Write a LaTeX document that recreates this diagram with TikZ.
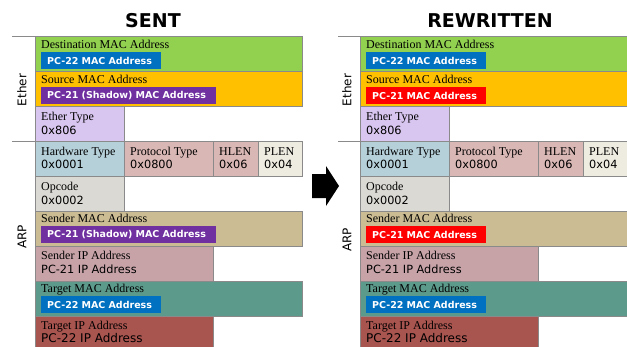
\documentclass[tikz,border=0pt]{standalone}
\usepackage{fontspec}
\usepackage{tikz}
\usetikzlibrary{positioning}
\usepackage{xcolor}

\newfontfamily\namefont{Liberation Serif}
\newfontfamily\valfont{DejaVu Sans}

\definecolor{fieldline}{HTML}{8A8A8A}
\definecolor{dstgreen}{HTML}{92D050}
\definecolor{srcorange}{HTML}{FFC000}
\definecolor{ethlilac}{HTML}{D9C6F0}
\definecolor{hwblue}{HTML}{B6D0DA}
\definecolor{protopink}{HTML}{D9B7B4}
\definecolor{plencream}{HTML}{EEEBE0}
\definecolor{opgray}{HTML}{DAD9D4}
\definecolor{smackhaki}{HTML}{CBBC93}
\definecolor{sippink}{HTML}{C7A3A8}
\definecolor{tmacteal}{HTML}{5C9A8B}
\definecolor{tipbrick}{HTML}{A8544F}
\definecolor{tagblue}{HTML}{0070C0}
\definecolor{tagpurple}{HTML}{7030A0}
\definecolor{tagred}{HTML}{FF0000}

\tikzset{
  field/.style={draw=fieldline, fill=#1, anchor=north west, minimum height=35, inner sep=0},
  fname/.style={anchor=base west, inner sep=0, font=\namefont\fontsize{12}{12}\selectfont},
  fval/.style={anchor=base west, inner sep=0, font=\valfont\fontsize{11.3}{12}\selectfont},
  bigval/.style={fval, font=\valfont\fontsize{12}{12}\selectfont},
  tag/.style={fill=#1, text=white, anchor=west, minimum height=17, inner xsep=6, inner ysep=0,
    align=left, font=\valfont\bfseries\fontsize{9.5}{10}\selectfont},
  side/.style={rotate=90, font=\valfont\fontsize{12}{12}\selectfont},
  heading/.style={font=\valfont\bfseries\fontsize{19}{20}\selectfont},
  bracket/.style={draw=fieldline, line width=0.8pt},
}

\begin{document}
\begin{tikzpicture}[x=1pt,y=-1pt]
\useasboundingbox (0,0) rectangle (627,346);

% sent frame
\node [heading] (sTitle) at (153,21) {SENT};
\begin{scope}[shift={(35,0)}]
\node [field=dstgreen, minimum width=267] (sDst) at (0,36) {};
\node [field=srcorange, minimum width=267] (sSrc) at (0,71) {};
\node [field=ethlilac, minimum width=89] (sEth) at (0,106) {};
\node [field=hwblue, minimum width=89] (sHw) at (0,141) {};
\node [field=protopink, minimum width=89] (sProto) at (89,141) {};
\node [field=protopink, minimum width=45] (sHlen) at (178,141) {};
\node [field=plencream, minimum width=44] (sPlen) at (223,141) {};
\node [field=opgray, minimum width=89] (sOp) at (0,176) {};
\node [field=smackhaki, minimum width=267] (sSmac) at (0,211) {};
\node [field=sippink, minimum width=178] (sSip) at (0,246) {};
\node [field=tmacteal, minimum width=267] (sTmac) at (0,281) {};
\node [field=tipbrick, minimum width=178] (sTip) at (0,316) {};

\node [fname] (sDstN) at (6,48) {Destination MAC Address};
\node [tag=tagblue, text width=108] (sDstV) at (6,60.5) {PC-22 MAC Address};
\node [fname] (sSrcN) at (6,83) {Source MAC Address};
\node [tag=tagpurple, text width=163] (sSrcV) at (6,95.5) {PC-21 (Shadow) MAC Address};
\node [fname] (sEthN) at (6,120) {Ether Type};
\node [fval] (sEthV) at (6,134) {0x806};
\node [fname] (sHwN) at (6,155) {Hardware Type};
\node [fval] (sHwV) at (6,168) {0x0001};
\node [fname] (sProtoN) at (95,155) {Protocol Type};
\node [fval] (sProtoV) at (95,168) {0x0800};
\node [fname] (sHlenN) at (184,155) {HLEN};
\node [fval] (sHlenV) at (184,168) {0x06};
\node [fname] (sPlenN) at (229,155) {PLEN};
\node [fval] (sPlenV) at (229,168) {0x04};
\node [fname] (sOpN) at (6,190) {Opcode};
\node [fval] (sOpV) at (6,204) {0x0002};
\node [fname] (sSmacN) at (6,222.5) {Sender MAC Address};
\node [tag=tagpurple, text width=163] (sSmacV) at (6,234.5) {PC-21 (Shadow) MAC Address};
\node [fname] (sSipN) at (6,259) {Sender IP Address};
\node [fval] (sSipV) at (6,273.5) {PC-21 IP Address};
\node [fname] (sTmacN) at (6,292) {Target MAC Address};
\node [tag=tagblue, text width=108] (sTmacV) at (6,304.5) {PC-22 MAC Address};
\node [fname] (sTipN) at (6,329) {Target IP Address};
\node [bigval] (sTipV) at (6,342.5) {PC-22 IP Address};
\end{scope}
\draw [bracket] (sDst.north west) -- ++(-23,0);
\draw [bracket] (sHw.north west) -- ++(-23,0);
\node [side] (sEther) at (22,90) {Ether};
\node [side] (sArp) at (22,237) {ARP};

% arrow between the frames
\fill [black] (312,174) -- (326,174) -- (326,166) -- (339,186) -- (326,206)
  -- (326,198) -- (312,198) -- cycle;

% rewritten frame
\node [heading] (rTitle) at (490,21) {REWRITTEN};
\begin{scope}[shift={(360,0)}]
\node [field=dstgreen, minimum width=267] (rDst) at (0,36) {};
\node [field=srcorange, minimum width=267] (rSrc) at (0,71) {};
\node [field=ethlilac, minimum width=89] (rEth) at (0,106) {};
\node [field=hwblue, minimum width=89] (rHw) at (0,141) {};
\node [field=protopink, minimum width=89] (rProto) at (89,141) {};
\node [field=protopink, minimum width=45] (rHlen) at (178,141) {};
\node [field=plencream, minimum width=44] (rPlen) at (223,141) {};
\node [field=opgray, minimum width=89] (rOp) at (0,176) {};
\node [field=smackhaki, minimum width=267] (rSmac) at (0,211) {};
\node [field=sippink, minimum width=178] (rSip) at (0,246) {};
\node [field=tmacteal, minimum width=267] (rTmac) at (0,281) {};
\node [field=tipbrick, minimum width=178] (rTip) at (0,316) {};

\node [fname] (rDstN) at (6,48) {Destination MAC Address};
\node [tag=tagblue, text width=108] (rDstV) at (6,60.5) {PC-22 MAC Address};
\node [fname] (rSrcN) at (6,83) {Source MAC Address};
\node [tag=tagred, text width=108] (rSrcV) at (6,95.5) {PC-21 MAC Address};
\node [fname] (rEthN) at (6,120) {Ether Type};
\node [fval] (rEthV) at (6,134) {0x806};
\node [fname] (rHwN) at (6,155) {Hardware Type};
\node [fval] (rHwV) at (6,168) {0x0001};
\node [fname] (rProtoN) at (95,155) {Protocol Type};
\node [fval] (rProtoV) at (95,168) {0x0800};
\node [fname] (rHlenN) at (184,155) {HLEN};
\node [fval] (rHlenV) at (184,168) {0x06};
\node [fname] (rPlenN) at (229,155) {PLEN};
\node [fval] (rPlenV) at (229,168) {0x04};
\node [fname] (rOpN) at (6,190) {Opcode};
\node [fval] (rOpV) at (6,204) {0x0002};
\node [fname] (rSmacN) at (6,222.5) {Sender MAC Address};
\node [tag=tagred, text width=108] (rSmacV) at (6,234.5) {PC-21 MAC Address};
\node [fname] (rSipN) at (6,259) {Sender IP Address};
\node [fval] (rSipV) at (6,273.5) {PC-21 IP Address};
\node [fname] (rTmacN) at (6,292) {Target MAC Address};
\node [tag=tagblue, text width=108] (rTmacV) at (6,304.5) {PC-22 MAC Address};
\node [fname] (rTipN) at (6,329) {Target IP Address};
\node [bigval] (rTipV) at (6,342.5) {PC-22 IP Address};
\end{scope}
\draw [bracket] (rDst.north west) -- ++(-22,0);
\draw [bracket] (rHw.north west) -- ++(-22,0);
\node [side] (rEther) at (347,90) {Ether};
\node [side] (rArp) at (347,240) {ARP};
\end{tikzpicture}
\end{document}
